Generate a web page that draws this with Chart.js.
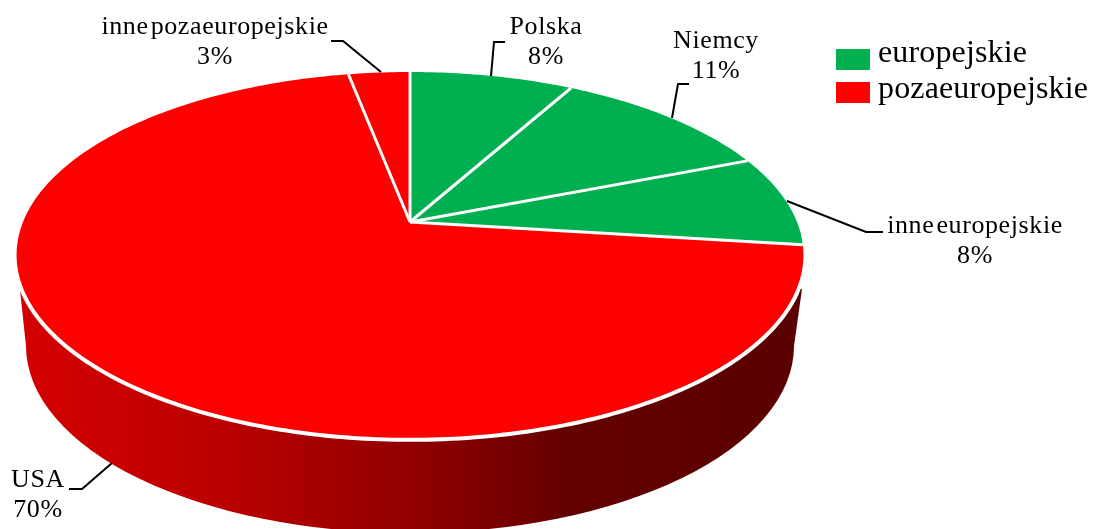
<!DOCTYPE html>
<html>
<head>
<meta charset="utf-8">
<style>
  html, body { margin: 0; padding: 0; background: #fff; overflow: hidden; }
  canvas { display: block; }
</style>
<script src="https://cdn.jsdelivr.net/npm/chart.js@4"></script>
</head>
<body>
<canvas id="myChart" width="1094" height="529"></canvas>
<script>
const categories = ['Polska', 'Niemcy', 'inne europejskie', 'USA', 'inne pozaeuropejskie'];
const values = [8, 11, 8, 70, 3];
const sliceColors = ['#00b050', '#00b050', '#00b050', '#ff0000', '#ff0000'];
const legendNames = ['europejskie', 'pozaeuropejskie'];
const legendColors = ['#00b050', '#ff0000'];

// label anchor (center x, first baseline) and leader line for each slice
const labelPos = [[546, 34], [716, 48], [975, 233], [38, 487], [215, 34]];
const leaders = [
    [[491, 76], [494, 42], [505, 42]],
    [[672, 118], [678, 84], [689, 84]],
    [[787, 201], [866, 232], [883, 232]],
    [[112, 463], [82, 489], [69, 489]],
    [[381, 72], [343, 41], [331, 41]]
];

// perspective view of the pie's top face
const apex = { x: 410, y: 222 };
const persp = { a: 387, b: 177, k: 0.18 };

function project(angle) {
    // angle as given by the arc element, -PI/2 is the top
    const X = Math.cos(angle);
    const Y = -Math.sin(angle);
    const w = 1 + persp.k * Y;
    return [apex.x + persp.a * X / w, apex.y - persp.b * Y / w];
}

function rimPath(ctx, start, end) {
    const steps = Math.max(8, Math.ceil((end - start) * 60));
    for (let i = 0; i <= steps; i++) {
        const p = project(start + (end - start) * i / steps);
        ctx.lineTo(p[0], p[1]);
    }
}

const pie3d = {
    id: 'pie3d',
    beforeDatasetDraw(chart, args) {
        const ctx = chart.ctx;
        const arcs = args.meta.data;
        ctx.save();

        // side wall
        const grad = ctx.createLinearGradient(20, 0, 800, 0);
        grad.addColorStop(0, '#d40000');
        grad.addColorStop(0.25, '#bc0000');
        grad.addColorStop(0.5, '#920000');
        grad.addColorStop(0.7, '#640000');
        grad.addColorStop(1, '#5a0000');
        ctx.beginPath();
        ctx.moveTo(802, 289);
        ctx.lineTo(20, 290);
        ctx.ellipse(410, 346, 384, 187, 0, Math.PI, 0, true);
        ctx.closePath();
        ctx.fillStyle = grad;
        ctx.fill();

        // white rim between top face and wall
        ctx.beginPath();
        rimPath(ctx, 0, Math.PI * 2);
        ctx.closePath();
        ctx.strokeStyle = '#fff';
        ctx.lineWidth = 8;
        ctx.stroke();

        // top face, angles come from the arc elements
        arcs.forEach((arc, i) => {
            const p = arc.getProps(['startAngle', 'endAngle']);
            ctx.beginPath();
            ctx.moveTo(apex.x, apex.y);
            rimPath(ctx, p.startAngle, p.endAngle);
            ctx.closePath();
            ctx.fillStyle = sliceColors[i];
            ctx.fill();
        });

        ctx.strokeStyle = '#fff';
        ctx.lineWidth = 3;
        arcs.forEach(arc => {
            const e = project(arc.getProps(['startAngle']).startAngle);
            ctx.beginPath();
            ctx.moveTo(apex.x, apex.y);
            ctx.lineTo(e[0], e[1]);
            ctx.stroke();
        });

        ctx.restore();
        return false;
    },
    afterDatasetsDraw(chart) {
        const ctx = chart.ctx;
        ctx.save();

        ctx.strokeStyle = '#000';
        ctx.lineWidth = 2;
        leaders.forEach(l => {
            ctx.beginPath();
            ctx.moveTo(l[0][0], l[0][1]);
            ctx.lineTo(l[1][0], l[1][1]);
            ctx.lineTo(l[2][0], l[2][1]);
            ctx.stroke();
        });

        ctx.fillStyle = '#000';
        ctx.font = '26px "Liberation Serif"';
        ctx.textAlign = 'center';
        ctx.textBaseline = 'alphabetic';
        ctx.letterSpacing = '0.6px';
        ctx.wordSpacing = '-5px';
        categories.forEach((name, i) => {
            ctx.fillText(name, labelPos[i][0], labelPos[i][1]);
            ctx.fillText(values[i] + '%', labelPos[i][0], labelPos[i][1] + 30);
        });

        // legend
        ctx.letterSpacing = '0.15px';
        ctx.wordSpacing = '0px';
        ctx.font = '32px "Liberation Serif"';
        ctx.textAlign = 'left';
        legendNames.forEach((name, i) => {
            ctx.fillStyle = legendColors[i];
            ctx.fillRect(836, 49 + i * 33, 34, 21);
            ctx.fillStyle = '#000';
            ctx.fillText(name, 878, 62 + i * 36);
        });

        ctx.restore();
    }
};

new Chart(document.querySelector('#myChart'), {
    type: 'pie',
    data: {
        labels: categories,
        datasets: [{ data: values, backgroundColor: sliceColors }]
    },
    options: {
        responsive: false,
        animation: false,
        plugins: {
            tooltip: { enabled: false },
            legend: { display: false }
        }
    },
    plugins: [pie3d]
});
</script>
</body>
</html>
